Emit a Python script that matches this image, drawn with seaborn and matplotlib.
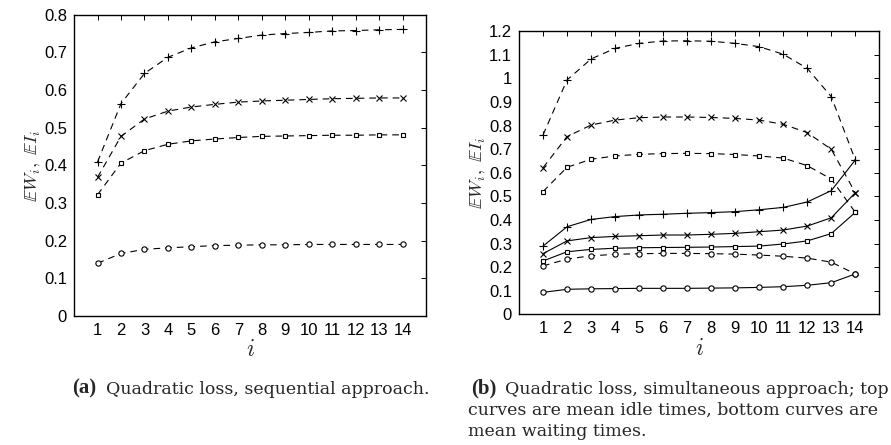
import matplotlib
matplotlib.use("Agg")
import matplotlib.pyplot as plt
import seaborn as sns
import numpy as np
import pandas as pd

sns.set_theme(style="white")
plt.rcParams["font.family"] = ["Liberation Sans", "DejaVu Sans"]
plt.rcParams["mathtext.fontset"] = "cm"

stations = list(range(1, 15))

# (a) sequential approach, quadratic loss
seq_plus = [0.409, 0.564, 0.644, 0.687, 0.712, 0.728, 0.737, 0.746, 0.750, 0.753, 0.757, 0.758, 0.760, 0.761]
seq_cross = [0.368, 0.477, 0.523, 0.544, 0.555, 0.562, 0.568, 0.571, 0.573, 0.575, 0.577, 0.578, 0.579, 0.579]
seq_square = [0.322, 0.406, 0.439, 0.456, 0.465, 0.470, 0.474, 0.477, 0.478, 0.479, 0.480, 0.480, 0.481, 0.481]
seq_circle = [0.140, 0.166, 0.177, 0.181, 0.184, 0.187, 0.188, 0.189, 0.189, 0.190, 0.190, 0.190, 0.190, 0.190]

# (b) simultaneous approach: mean idle times (top, dashed)
idle_plus = [0.760, 0.993, 1.082, 1.127, 1.148, 1.158, 1.159, 1.157, 1.148, 1.134, 1.102, 1.042, 0.922, 0.654]
idle_cross = [0.621, 0.753, 0.802, 0.823, 0.833, 0.836, 0.836, 0.834, 0.830, 0.823, 0.805, 0.770, 0.699, 0.515]
idle_square = [0.520, 0.623, 0.657, 0.671, 0.678, 0.681, 0.682, 0.681, 0.677, 0.671, 0.662, 0.630, 0.573, 0.432]
idle_circle = [0.205, 0.234, 0.248, 0.254, 0.257, 0.258, 0.258, 0.257, 0.255, 0.251, 0.246, 0.238, 0.221, 0.171]

# (b) simultaneous approach: mean waiting times (bottom, solid)
wait_plus = [0.289, 0.371, 0.402, 0.414, 0.421, 0.424, 0.428, 0.431, 0.435, 0.443, 0.453, 0.476, 0.524, 0.654]
wait_cross = [0.257, 0.311, 0.325, 0.330, 0.333, 0.336, 0.336, 0.339, 0.343, 0.350, 0.357, 0.374, 0.409, 0.515]
wait_square = [0.226, 0.265, 0.275, 0.280, 0.282, 0.283, 0.284, 0.285, 0.287, 0.289, 0.298, 0.311, 0.342, 0.432]
wait_circle = [0.093, 0.106, 0.108, 0.109, 0.110, 0.110, 0.110, 0.111, 0.112, 0.114, 0.117, 0.123, 0.134, 0.171]

left_yticks = [0, 0.1, 0.2, 0.3, 0.4, 0.5, 0.6, 0.7, 0.8]
left_yticklabels = ["0", "0.1", "0.2", "0.3", "0.4", "0.5", "0.6", "0.7", "0.8"]
right_yticks = [0, 0.1, 0.2, 0.3, 0.4, 0.5, 0.6, 0.7, 0.8, 0.9, 1.0, 1.1, 1.2]
right_yticklabels = ["0", "0.1", "0.2", "0.3", "0.4", "0.5", "0.6", "0.7", "0.8", "0.9", "1", "1.1", "1.2"]

ylabel = r"$\mathbb{E}W_i,\ \mathbb{E}I_i$"
caption_a_tag, caption_a = "(a)", "Quadratic loss, sequential approach."
caption_b_tag = "(b)"
caption_b = ["Quadratic loss, simultaneous approach; top",
             "curves are mean idle times, bottom curves are",
             "mean waiting times."]

marker_style = {
    "+": dict(marker="+", markersize=6, markeredgewidth=0.8),
    "x": dict(marker="x", markersize=3.8, markeredgewidth=0.8),
    "s": dict(marker="s", markersize=3.4, markeredgewidth=0.8, markerfacecolor="white"),
    "o": dict(marker="o", markersize=3.8, markeredgewidth=0.8, markerfacecolor="white"),
}
DASH = (0, (6, 4.5))

fig = plt.figure(figsize=(8.91, 4.45), dpi=100)
ax_a = fig.add_axes([0.0831, 0.2899, 0.3951, 0.6770])
ax_b = fig.add_axes([0.5825, 0.2937, 0.4044, 0.6364])


def draw(ax, values, mk, ls):
    sns.lineplot(x=stations, y=values, ax=ax, color="black", linewidth=0.8,
                 linestyle=ls, markeredgecolor="black", **marker_style[mk])


for vals, mk in [(seq_plus, "+"), (seq_cross, "x"), (seq_square, "s"), (seq_circle, "o")]:
    draw(ax_a, vals, mk, DASH)

for vals, mk in [(idle_plus, "+"), (idle_cross, "x"), (idle_square, "s"), (idle_circle, "o")]:
    draw(ax_b, vals, mk, DASH)
for vals, mk in [(wait_plus, "+"), (wait_cross, "x"), (wait_square, "s"), (wait_circle, "o")]:
    draw(ax_b, vals, mk, "-")


def style(ax, yticks, yticklabels):
    ax.set_xlim(0, 15)
    ax.set_ylim(yticks[0], yticks[-1])
    ax.set_xticks(stations)
    ax.set_xticklabels([str(s) for s in stations])
    ax.set_yticks(yticks)
    ax.set_yticklabels(yticklabels)
    ax.tick_params(direction="in", length=3.5, width=0.7, top=True, right=True,
                   labelsize=12, colors="black", pad=5)
    ax.tick_params(axis="y", pad=5)
    for sp in ax.spines.values():
        sp.set_color("black")
        sp.set_linewidth(1.0)
        sp.set_visible(True)
    ax.set_xlabel(r"$i$", fontsize=17, labelpad=1)
    ax.set_ylabel(ylabel, fontsize=13, labelpad=1)
    ax.grid(False)


style(ax_a, left_yticks, left_yticklabels)
style(ax_b, right_yticks, right_yticklabels)

serif = ["DejaVu Serif"]
tag_font = ["Liberation Serif", "DejaVu Serif"]


def caption(x_px, y_px, text, family=serif, **kw):
    fig.text(x_px / 891, 1 - y_px / 445, text, family=family, va="center",
             ha="left", **kw)


caption(72, 388, caption_a_tag, family=tag_font, fontsize=15, fontweight="bold")
caption(106, 389, caption_a, fontsize=12.5)
caption(471, 388, caption_b_tag, family=tag_font, fontsize=15, fontweight="bold")
caption(505, 389, caption_b[0], fontsize=12.5)
caption(468, 410, caption_b[1], fontsize=12.5)
caption(468, 432, caption_b[2], fontsize=12.5)

fig.savefig("out.png", dpi=100)
